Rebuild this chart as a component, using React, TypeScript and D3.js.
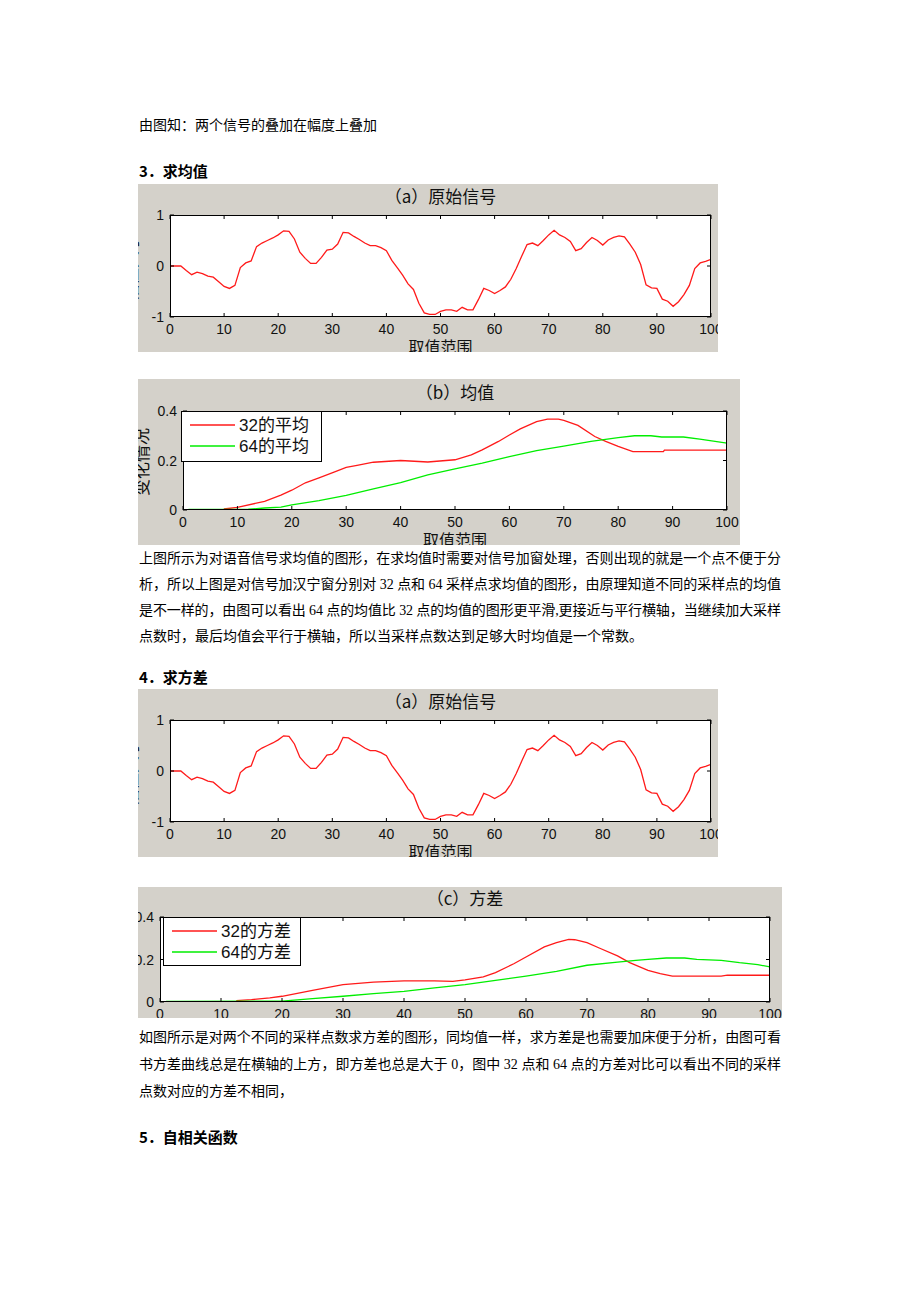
import React from 'react';
import * as d3 from 'd3';

// ---------- DATA ----------
const xTicks = [0, 10, 20, 30, 40, 50, 60, 70, 80, 90, 100];
const xTickLabels = ['0', '10', '20', '30', '40', '50', '60', '70', '80', '90', '100'];

// original signal, value at x = 0..100
const signalValues = [
  0, 0, 0, -0.09, -0.17, -0.12, -0.15, -0.2, -0.22, -0.31,
  -0.4, -0.44, -0.38, -0.03, 0.06, 0.1, 0.38, 0.45, 0.5, 0.55,
  0.61, 0.69, 0.68, 0.53, 0.27, 0.15, 0.05, 0.05, 0.17, 0.31,
  0.33, 0.43, 0.66, 0.65, 0.58, 0.52, 0.45, 0.4, 0.4, 0.36,
  0.3, 0.11, -0.03, -0.18, -0.35, -0.46, -0.73, -0.92, -0.95, -0.95,
  -0.89, -0.86, -0.86, -0.89, -0.81, -0.86, -0.86, -0.66, -0.44, -0.48,
  -0.54, -0.48, -0.41, -0.26, -0.05, 0.19, 0.42, 0.45, 0.4, 0.5,
  0.61, 0.7, 0.61, 0.56, 0.48, 0.3, 0.34, 0.46, 0.56, 0.5,
  0.41, 0.51, 0.56, 0.59, 0.57, 0.43, 0.27, 0.03, -0.37, -0.43,
  -0.44, -0.65, -0.69, -0.79, -0.7, -0.56, -0.38, -0.05, 0.06, 0.09,
  0.13,
];
const signalYTicks = [-1, 0, 1];
const signalYTickLabels = ['-1', '0', '1'];

const statYTicks = [0, 0.2, 0.4];
const statYTickLabels = ['0', '0.2', '0.4'];

const mean32: [number, number][] = [
  [7.5, 0.004], [10, 0.011], [15, 0.035], [18, 0.06], [20, 0.08], [22.5, 0.11], [25, 0.13],
  [28, 0.155], [30, 0.172], [32, 0.18], [35, 0.193], [40, 0.2], [45, 0.194], [50, 0.203],
  [53, 0.223], [55, 0.243], [58, 0.277], [60, 0.303], [62, 0.328], [65, 0.357], [67, 0.367],
  [69, 0.367], [70, 0.362], [72.6, 0.342], [75.7, 0.297], [77.7, 0.277], [80, 0.257],
  [82.7, 0.236], [88.3, 0.236], [88.5, 0.242], [100, 0.242],
];
const mean64: [number, number][] = [
  [1, 0.002], [12, 0.003], [15, 0.008], [18, 0.012], [20, 0.021], [25, 0.038], [30, 0.059],
  [35, 0.085], [40, 0.111], [45, 0.142], [50, 0.166], [55, 0.189], [60, 0.216], [65, 0.24],
  [70, 0.258], [75, 0.277], [80, 0.292], [83, 0.3], [86, 0.3], [88, 0.295], [92, 0.295],
  [95, 0.286], [100, 0.27],
];
const var32: [number, number][] = [
  [12.5, 0.006], [15, 0.011], [18, 0.019], [20, 0.027], [25, 0.055], [30, 0.082], [35, 0.094],
  [40, 0.099], [45, 0.099], [48, 0.097], [50, 0.104], [53, 0.118], [55, 0.138], [58, 0.18],
  [60, 0.212], [63, 0.259], [65, 0.279], [67, 0.295], [68, 0.293], [70, 0.279], [72, 0.254],
  [75, 0.217], [77, 0.185], [80, 0.149], [82, 0.133], [84, 0.122], [92, 0.122], [93, 0.126],
  [100, 0.126],
];
const var64: [number, number][] = [
  [1, 0.003], [20, 0.004], [25, 0.016], [30, 0.027], [35, 0.039], [40, 0.05], [45, 0.066],
  [50, 0.082], [55, 0.102], [60, 0.122], [65, 0.144], [70, 0.173], [75, 0.188], [78, 0.196],
  [80, 0.201], [83, 0.207], [86, 0.207], [88, 0.201], [92, 0.196], [95, 0.185], [98, 0.176],
  [100, 0.165],
];

const meanLegend = ['32的平均', '64的平均'];
const varLegend = ['32的方差', '64的方差'];

const line1 = '由图知：两个信号的叠加在幅度上叠加';
const heading3 = '3．求均值';
const para1 = [
  '上图所示为对语音信号求均值的图形，在求均值时需要对信号加窗处理，否则出现的就是一个点不便于分',
  '析，所以上图是对信号加汉宁窗分别对 32 点和 64 采样点求均值的图形，由原理知道不同的采样点的均值',
  '是不一样的，由图可以看出 64 点的均值比 32 点的均值的图形更平滑,更接近与平行横轴，当继续加大采样',
  '点数时，最后均值会平行于横轴，所以当采样点数达到足够大时均值是一个常数。',
];
const heading4 = '4．求方差';
const para2 = [
  '如图所示是对两个不同的采样点数求方差的图形，同均值一样，求方差是也需要加床便于分析，由图可看',
  '书方差曲线总是在横轴的上方，即方差也总是大于 0，图中 32 点和 64 点的方差对比可以看出不同的采样',
  '点数对应的方差不相同，',
];
const heading5 = '5．自相关函数';

// ---------- STYLE ----------
const SANS = "'Liberation Sans', 'Noto Sans CJK SC', sans-serif";
const SERIF = "'Liberation Serif', 'Noto Sans CJK SC', serif";
const CJK = "'Noto Sans CJK SC', 'Liberation Sans', sans-serif";
const FRAME_BG = '#d4d1ca';
const RED = '#ff1a1a';
const GREEN = '#00ee00';

type Series = { points: [number, number][]; color: string };

type PanelProps = {
  id: string;
  frame: { x: number; y: number; w: number; h: number };
  axes: { l: number; r: number; t: number; b: number };
  yDomain: [number, number];
  yTicks: number[];
  yTickLabels: string[];
  title: string;
  series: Series[];
  legend?: { labels: string[]; box: { x: number; y: number; w: number; h: number } };
  ylabel?: { text: string; x: number; y: number };
  xlabel?: string;
};

function Panel(p: PanelProps) {
  const { frame, axes } = p;
  const x = d3.scaleLinear().domain([0, 100]).range([axes.l, axes.r]);
  const y = d3.scaleLinear().domain(p.yDomain).range([axes.b, axes.t]);
  const line = d3
    .line<[number, number]>()
    .x((d) => x(d[0]))
    .y((d) => y(d[1]));
  const tl = 4;
  const cx = (axes.l + axes.r) / 2;
  return (
    <g>
      <defs>
        <clipPath id={`clip-${p.id}`}>
          <rect x={frame.x} y={frame.y} width={frame.w} height={frame.h} />
        </clipPath>
        <clipPath id={`axclip-${p.id}`}>
          <rect x={axes.l} y={axes.t} width={axes.r - axes.l} height={axes.b - axes.t} />
        </clipPath>
      </defs>
      <g clipPath={`url(#clip-${p.id})`}>
        <rect x={frame.x} y={frame.y} width={frame.w} height={frame.h} fill={FRAME_BG} />
        <rect x={axes.l} y={axes.t} width={axes.r - axes.l} height={axes.b - axes.t} fill="#fff" />
        <text
          x={cx}
          y={axes.t - 12}
          textAnchor="middle"
          fontFamily={CJK}
          fontSize={17}
          fill="#111"
        >
          {p.title}
        </text>
        <g clipPath={`url(#axclip-${p.id})`}>
          {p.series.map((s, i) => (
            <path key={i} d={line(s.points) || ''} fill="none" stroke={s.color} strokeWidth={1.3} />
          ))}
        </g>
        {/* ticks */}
        {xTicks.map((t) => (
          <g key={`xt${t}`}>
            <line x1={x(t)} x2={x(t)} y1={axes.b} y2={axes.b - tl} stroke="#000" />
            <line x1={x(t)} x2={x(t)} y1={axes.t} y2={axes.t + tl} stroke="#000" />
          </g>
        ))}
        {p.yTicks.map((t) => (
          <g key={`yt${t}`}>
            <line x1={axes.l} x2={axes.l + tl} y1={y(t)} y2={y(t)} stroke="#000" />
            <line x1={axes.r} x2={axes.r - tl} y1={y(t)} y2={y(t)} stroke="#000" />
          </g>
        ))}
        <rect
          x={axes.l + 0.5}
          y={axes.t + 0.5}
          width={axes.r - axes.l - 1}
          height={axes.b - axes.t - 1}
          fill="none"
          stroke="#000"
          strokeWidth={1}
        />
        {xTicks.map((t, i) => (
          <text
            key={`xl${t}`}
            x={x(t)}
            y={axes.b + 17}
            textAnchor="middle"
            fontFamily={SANS}
            fontSize={14}
            fill="#111"
          >
            {xTickLabels[i]}
          </text>
        ))}
        {p.yTicks.map((t, i) => (
          <text
            key={`yl${t}`}
            x={axes.l - 6}
            y={y(t) + 5}
            textAnchor="end"
            fontFamily={SANS}
            fontSize={14}
            fill="#111"
          >
            {p.yTickLabels[i]}
          </text>
        ))}
        {p.xlabel && (
          <text x={cx} y={axes.b + 36} textAnchor="middle" fontFamily={SANS} fontSize={16} fill="#111">
            {p.xlabel}
          </text>
        )}
        {p.ylabel && (
          <text
            transform={`translate(${p.ylabel.x},${p.ylabel.y}) rotate(-90)`}
            textAnchor="middle"
            fontFamily={CJK}
            fontSize={17}
            fill="#111"
          >
            {p.ylabel.text}
          </text>
        )}
        {p.legend && (
          <g>
            <rect
              x={p.legend.box.x + 0.5}
              y={p.legend.box.y + 0.5}
              width={p.legend.box.w}
              height={p.legend.box.h}
              fill="#fff"
              stroke="#000"
            />
            {p.legend.labels.map((lab, i) => {
              const ly = p.legend!.box.y + 14 + i * 21;
              return (
                <g key={lab}>
                  <line
                    x1={p.legend!.box.x + 9}
                    x2={p.legend!.box.x + 54}
                    y1={ly}
                    y2={ly}
                    stroke={p.series[i].color}
                    strokeWidth={1.3}
                  />
                  <text
                    x={p.legend!.box.x + 58}
                    y={ly + 6}
                    fontFamily={SANS}
                    fontSize={17}
                    fill="#111"
                  >
                    {lab}
                  </text>
                </g>
              );
            })}
          </g>
        )}
      </g>
    </g>
  );
}

function Para({ lines, x, y0, step, right }: { lines: string[]; x: number; y0: number; step: number; right: number }) {
  return (
    <g>
      {lines.map((l, i) => (
        <text
          key={i}
          x={x}
          y={y0 + i * step}
          fontFamily={SERIF}
          fontSize={14}
          fill="#000"
          {...(i < lines.length - 1 ? { textLength: right - x, lengthAdjust: 'spacing' } : {})}
        >
          {l}
        </text>
      ))}
    </g>
  );
}

export default function App() {
  const signalPts: [number, number][] = signalValues.map((v, i) => [i, v]);
  return (
    <svg
      width={920}
      height={1302}
      viewBox="0 0 920 1302"
      style={{ position: 'absolute', left: 0, top: 0, background: '#fff' }}
    >
      <rect x={0} y={0} width={920} height={1302} fill="#fff" />
      <text x={139} y={130} fontFamily={SERIF} fontSize={14} fill="#000">
        {line1}
      </text>
      <text x={139} y={177} fontFamily={CJK} fontSize={15} fontWeight="bold" fill="#000">
        {heading3}
      </text>

      <Panel
        id="a1"
        frame={{ x: 138, y: 184, w: 580, h: 168 }}
        axes={{ l: 170, r: 711, t: 215, b: 317 }}
        yDomain={[-1, 1]}
        yTicks={signalYTicks}
        yTickLabels={signalYTickLabels}
        title="（a）原始信号"
        series={[{ points: signalPts, color: RED }]}
        ylabel={{ text: '幅值大小', x: 137, y: 268 }}
        xlabel="取值范围"
      />

      <Panel
        id="b"
        frame={{ x: 138, y: 379, w: 602, h: 166 }}
        axes={{ l: 183, r: 727, t: 411, b: 510 }}
        yDomain={[0, 0.4]}
        yTicks={statYTicks}
        yTickLabels={statYTickLabels}
        title="（b）均值"
        series={[
          { points: mean32, color: RED },
          { points: mean64, color: GREEN },
        ]}
        legend={{ labels: meanLegend, box: { x: 181, y: 411, w: 140, h: 50 } }}
        ylabel={{ text: '变化情况', x: 148, y: 462 }}
        xlabel="取值范围"
      />

      <Para lines={para1} x={139} y0={563} step={26} right={781} />

      <text x={139} y={683} fontFamily={CJK} fontSize={15} fontWeight="bold" fill="#000">
        {heading4}
      </text>

      <Panel
        id="a2"
        frame={{ x: 138, y: 689, w: 580, h: 168 }}
        axes={{ l: 170, r: 711, t: 720, b: 822 }}
        yDomain={[-1, 1]}
        yTicks={signalYTicks}
        yTickLabels={signalYTickLabels}
        title="（a）原始信号"
        series={[{ points: signalPts, color: RED }]}
        ylabel={{ text: '幅值大小', x: 137, y: 773 }}
        xlabel="取值范围"
      />

      <Panel
        id="c"
        frame={{ x: 138, y: 887, w: 644, h: 131 }}
        axes={{ l: 160, r: 770, t: 917, b: 1002 }}
        yDomain={[0, 0.4]}
        yTicks={statYTicks}
        yTickLabels={statYTickLabels}
        title="（c）方差"
        series={[
          { points: var32, color: RED },
          { points: var64, color: GREEN },
        ]}
        legend={{ labels: varLegend, box: { x: 163, y: 917, w: 137, h: 48 } }}
      />

      <Para lines={para2} x={139} y0={1042} step={27} right={781} />

      <text x={139} y={1143} fontFamily={CJK} fontSize={15} fontWeight="bold" fill="#000">
        {heading5}
      </text>
    </svg>
  );
}
